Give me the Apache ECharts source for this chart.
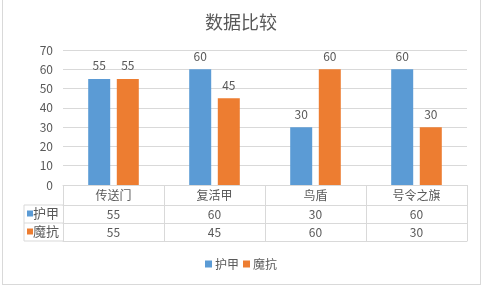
<!DOCTYPE html>
<html>
<head>
<meta charset="utf-8">
<script src="https://cdn.jsdelivr.net/npm/echarts@6/dist/echarts.min.js"></script>
<style>
html,body{margin:0;padding:0;background:#fff;}
#c{width:482px;height:288px;position:relative;}
#frame{position:absolute;left:2px;top:0;width:477px;height:284px;border:1px solid #D9D9D9;border-top:none;pointer-events:none;}
</style>
</head>
<body>
<div id="c"></div>
<div id="frame"></div>
<script>
const title = '数据比较';
const categories = ['传送门', '复活甲', '鸟盾', '号令之旗'];
const seriesNames = ['护甲', '魔抗'];
const armor = [55, 60, 30, 60];
const magicRes = [55, 45, 60, 30];
const yTicks = [0, 10, 20, 30, 40, 50, 60, 70];

const colors = ['#5B9BD5', '#ED7D31'];
const FONT = '"Noto Sans CJK SC", "Noto Sans", sans-serif';
const TXT = '#595959';
const LINE = '#D9D9D9';

const W = 482, H = 288;
const gLeft = 63, gRight = 15, gTop = 50, gBottom = 103;
const rowH = [20, 18, 18];
const tableLeft = 24;

const chart = echarts.init(document.getElementById('c'));

function rowAxis(offset, values, name, color, tickLen) {
  return {
    type: 'category',
    data: categories,
    position: 'bottom',
    offset: offset,
    axisLine: { show: true, lineStyle: { color: LINE } },
    axisTick: { show: true, length: tickLen, interval: 0, lineStyle: { color: LINE } },
    axisLabel: {
      show: values !== null, interval: 0, margin: 3, color: TXT, fontSize: 12, fontFamily: FONT,
      formatter: function (v, i) { return values ? String(values[i]) : ''; }
    },
    name: name ? '{sq|}' + name : '',
    nameLocation: 'start',
    nameGap: 4,
    nameTextStyle: {
      color: TXT, fontSize: 13, fontFamily: FONT, verticalAlign: 'top', padding: [2, 0, 0, 0],
      rich: { sq: { width: 6, height: 6, backgroundColor: color, padding: 0 } }
    },
    splitLine: { show: false }
  };
}

const y0 = H - gBottom;
const r1 = y0 + rowH[0], r2 = r1 + rowH[1], r3 = r2 + rowH[2];

const option = {
  animation: false,
  color: colors,
  title: {
    text: title, left: 'center', top: 8,
    textStyle: { color: TXT, fontSize: 18, fontWeight: 'normal', fontFamily: FONT }
  },
  legend: {
    data: seriesNames, bottom: 13, left: 'center', icon: 'rect',
    itemWidth: 7, itemHeight: 7, itemGap: 4,
    textStyle: { color: TXT, fontSize: 12, fontFamily: FONT, padding: [0, 0, 0, -2] }
  },
  grid: { left: gLeft, right: gRight, top: gTop, bottom: gBottom },
  xAxis: [
    {
      type: 'category', data: categories, position: 'bottom',
      axisLine: { show: true, lineStyle: { color: LINE } },
      axisTick: { show: true, length: rowH[0], interval: 0, lineStyle: { color: LINE } },
      axisLabel: { interval: 0, margin: 4, color: TXT, fontSize: 12, fontFamily: FONT }
    },
    rowAxis(rowH[0], armor, seriesNames[0], colors[0], rowH[1]),
    rowAxis(rowH[0] + rowH[1], magicRes, seriesNames[1], colors[1], rowH[2]),
    rowAxis(rowH[0] + rowH[1] + rowH[2], null, '', null, 0)
  ],
  yAxis: {
    type: 'value', min: yTicks[0], max: yTicks[yTicks.length - 1], interval: 10,
    axisLine: { show: false }, axisTick: { show: false },
    axisLabel: { color: TXT, fontSize: 12, fontFamily: FONT, margin: 10 },
    splitLine: { lineStyle: { color: LINE } }
  },
  series: [
    {
      name: seriesNames[0], type: 'bar', data: armor, barWidth: 22, barGap: '30%',
      label: { show: true, position: 'top', distance: 7, color: TXT, fontSize: 12, fontFamily: FONT }
    },
    {
      name: seriesNames[1], type: 'bar', data: magicRes, barWidth: 22, barGap: '30%',
      label: { show: true, position: 'top', distance: 7, color: TXT, fontSize: 12, fontFamily: FONT }
    }
  ],
  graphic: [
    { type: 'line', shape: { x1: tableLeft, y1: r1, x2: gLeft, y2: r1 }, style: { stroke: LINE, lineWidth: 1 } },
    { type: 'line', shape: { x1: tableLeft, y1: r2, x2: gLeft, y2: r2 }, style: { stroke: LINE, lineWidth: 1 } },
    { type: 'line', shape: { x1: tableLeft, y1: r3, x2: gLeft, y2: r3 }, style: { stroke: LINE, lineWidth: 1 } },
    { type: 'line', shape: { x1: tableLeft, y1: r1, x2: tableLeft, y2: r3 }, style: { stroke: LINE, lineWidth: 1 } }
  ]
};
chart.setOption(option);
</script>
</body>
</html>
